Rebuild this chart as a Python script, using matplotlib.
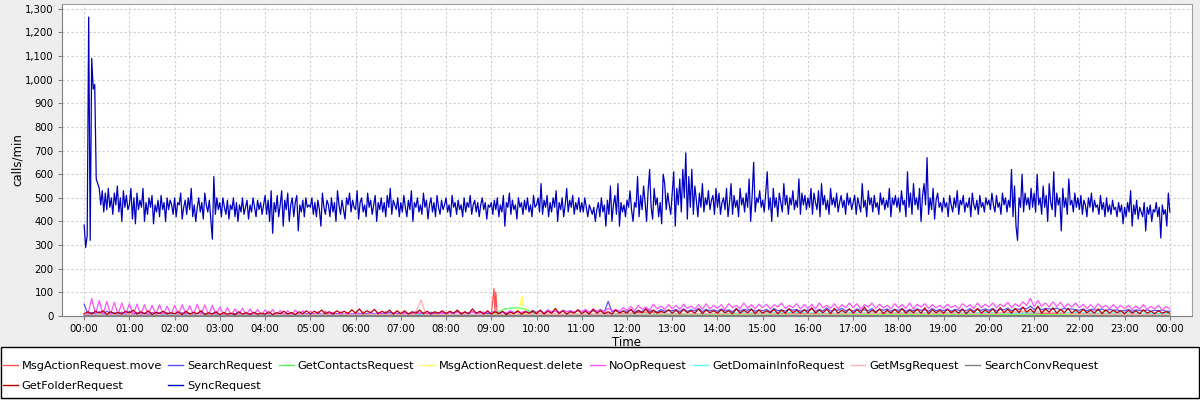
import numpy as np
import matplotlib
matplotlib.use('Agg')
import matplotlib.pyplot as plt
from matplotlib.patches import Rectangle
from matplotlib.ticker import FuncFormatter, MultipleLocator

# SyncRequest, one value every 2 minutes (30 per hour)
sync = [
    385, 290, 340, 1265, 320, 1090, 960, 980, 580, 560, 540, 470, 530, 440, 520, 450, 540, 460, 500, 430, 520, 470, 550, 440, 500, 400, 530, 460, 510, 450,
    470, 540, 410, 500, 390, 520, 450, 490, 460, 540, 400, 480, 430, 500, 460, 510, 390, 470, 440, 490, 420, 510, 450, 480, 400, 500, 450, 490, 470, 430,
    500, 420, 480, 470, 520, 410, 460, 490, 430, 500, 450, 540, 420, 470, 400, 460, 500, 440, 480, 410, 520, 470, 440, 490, 410, 325, 590, 430, 500, 450,
    480, 420, 500, 460, 430, 490, 410, 470, 450, 500, 420, 480, 400, 470, 440, 500, 430, 460, 490, 410, 470, 440, 500, 460, 420, 490, 450, 480, 430, 470,
    510, 430, 490, 400, 530, 350, 480, 440, 510, 420, 470, 530, 380, 490, 450, 520, 400, 470, 500, 420, 480, 510, 360, 470, 440, 490, 420, 500, 460, 470,
    460, 500, 430, 480, 420, 490, 450, 380, 520, 460, 430, 490, 470, 420, 500, 440, 480, 400, 530, 470, 430, 490, 450, 410, 500, 470, 520, 440, 490, 460,
    450, 530, 410, 480, 500, 440, 470, 420, 520, 460, 490, 430, 470, 510, 400, 480, 450, 500, 440, 480, 420, 510, 460, 540, 430, 490, 470, 450, 500, 420,
    480, 440, 510, 460, 420, 490, 450, 530, 400, 480, 460, 500, 440, 470, 430, 520, 460, 490, 410, 470, 500, 440, 480, 420, 510, 460, 430, 490, 450, 470,
    500, 440, 470, 420, 510, 460, 480, 430, 490, 450, 470, 420, 500, 440, 480, 460, 510, 430, 470, 490, 440, 480, 420, 470, 500, 450, 480, 410, 470, 460,
    480, 430, 490, 450, 500, 420, 470, 440, 510, 380, 480, 460, 520, 430, 490, 450, 470, 410, 500, 460, 480, 430, 490, 450, 500, 440, 470, 420, 510, 460,
    470, 500, 440, 560, 430, 490, 460, 510, 420, 480, 440, 500, 460, 530, 400, 480, 450, 500, 420, 470, 540, 440, 490, 460, 510, 430, 480, 450, 500, 440,
    480, 440, 500, 460, 420, 470, 450, 430, 460, 400, 450, 480, 420, 500, 440, 470, 380, 490, 430, 550, 400, 470, 510, 430, 560, 380, 480, 440, 470, 420,
    490, 460, 530, 450, 400, 480, 460, 590, 420, 510, 450, 550, 480, 400, 530, 620, 460, 410, 540, 470, 500, 420, 480, 390, 600, 560, 450, 520, 470, 430,
    520, 610, 380, 540, 470, 580, 440, 620, 500, 690, 410, 590, 460, 620, 430, 550, 490, 420, 520, 460, 560, 440, 500, 470, 530, 450, 490, 510, 430, 540,
    460, 520, 430, 480, 500, 450, 540, 420, 480, 560, 430, 510, 460, 490, 420, 540, 470, 500, 440, 520, 460, 580, 400, 510, 650, 440, 500, 480, 530, 460,
    490, 440, 520, 610, 450, 500, 400, 540, 460, 500, 420, 520, 480, 440, 560, 470, 510, 430, 500, 470, 530, 450, 490, 460, 580, 430, 520, 470, 510, 450,
    500, 460, 540, 430, 520, 480, 450, 530, 420, 560, 470, 510, 450, 490, 430, 540, 470, 500, 460, 520, 440, 480, 510, 460, 490, 430, 520, 470, 500, 450,
    480, 510, 430, 500, 470, 440, 560, 460, 490, 420, 530, 470, 500, 440, 510, 460, 480, 430, 520, 470, 500, 450, 490, 460, 540, 420, 500, 470, 510, 460,
    500, 440, 530, 470, 490, 420, 610, 460, 520, 430, 560, 470, 500, 450, 540, 400, 510, 560, 470, 670, 430, 500, 450, 540, 410, 490, 520, 460, 480, 440,
    500, 460, 480, 420, 510, 470, 440, 500, 460, 530, 430, 490, 470, 510, 440, 480, 460, 500, 420, 520, 470, 450, 490, 430, 510, 460, 480, 440, 500, 470,
    490, 450, 520, 470, 440, 510, 460, 480, 430, 520, 470, 500, 440, 490, 460, 620, 420, 550, 380, 320, 500, 460, 600, 440, 520, 470, 500, 450, 540, 460,
    520, 440, 600, 470, 500, 430, 550, 460, 510, 400, 560, 480, 450, 610, 420, 520, 470, 500, 360, 540, 460, 500, 430, 580, 470, 490, 440, 520, 460, 500,
    450, 510, 430, 490, 470, 420, 500, 460, 520, 440, 490, 460, 470, 430, 510, 450, 480, 420, 500, 440, 470, 430, 490, 450, 460, 420, 480, 440, 470, 390,
    460, 420, 480, 440, 530, 380, 470, 430, 490, 410, 460, 440, 420, 480, 360, 460, 430, 470, 400, 450, 440, 480, 420, 460, 330, 470, 430, 450, 380, 520,
    440,
]

# NoOpRequest, one value every 5 minutes
noop = [
    5, 8, 74, 8, 65, 6, 62, 6, 58, 6, 55, 6,
    52, 5, 50, 6, 48, 5, 45, 6, 47, 5, 42, 6,
    45, 5, 48, 6, 44, 5, 50, 6, 47, 5, 45, 5,
    38, 5, 35, 4, 30, 5, 33, 4, 30, 5, 28, 4,
    26, 5, 28, 4, 24, 5, 22, 4, 25, 5, 22, 4,
    20, 6, 18, 5, 20, 6, 16, 5, 18, 6, 15, 5,
    16, 6, 18, 5, 15, 7, 16, 6, 18, 5, 15, 7,
    8, 12, 10, 15, 9, 14, 8, 12, 10, 15, 9, 12,
    10, 14, 12, 16, 10, 15, 12, 18, 10, 14, 12, 16,
    12, 18, 10, 16, 14, 20, 12, 18, 15, 20, 12, 18,
    15, 22, 12, 25, 18, 20, 15, 24, 18, 22, 16, 25,
    18, 28, 15, 30, 20, 25, 18, 32, 22, 28, 20, 35,
    25, 40, 22, 45, 28, 38, 25, 50, 30, 42, 28, 48,
    30, 45, 28, 50, 32, 42, 30, 48, 28, 52, 30, 45,
    32, 48, 28, 52, 35, 45, 30, 55, 32, 48, 30, 50,
    35, 50, 30, 48, 38, 55, 32, 45, 35, 52, 30, 48,
    32, 50, 30, 55, 35, 45, 32, 52, 30, 48, 35, 55,
    35, 52, 30, 48, 38, 55, 32, 50, 35, 45, 30, 52,
    35, 48, 32, 55, 30, 50, 38, 52, 32, 48, 35, 45,
    32, 50, 35, 45, 30, 52, 38, 48, 32, 55, 35, 50,
    38, 55, 35, 50, 40, 58, 35, 52, 40, 60, 45, 75,
    40, 65, 42, 55, 38, 60, 40, 58, 35, 52, 38, 55,
    35, 50, 32, 48, 30, 52, 35, 45, 30, 48, 32, 45,
    30, 45, 28, 42, 30, 48, 28, 40, 30, 45, 25, 40,
    30,
]

# GetFolderRequest, every 5 minutes
getfolder = [
    10, 18, 8, 20, 12, 22, 6, 18, 10, 15, 8, 20,
    12, 25, 8, 18, 10, 22, 6, 15, 12, 20, 8, 14,
    10, 18, 6, 20, 8, 15, 10, 22, 6, 14, 8, 18,
    6, 15, 8, 12, 5, 18, 8, 14, 6, 16, 8, 12,
    8, 18, 6, 14, 10, 20, 8, 15, 6, 18, 10, 22,
    8, 20, 12, 25, 10, 18, 8, 22, 12, 20, 10, 26,
    12, 30, 10, 22, 14, 28, 10, 20, 12, 25, 8, 22,
    10, 22, 8, 18, 12, 25, 10, 20, 8, 18, 12, 22,
    10, 20, 12, 25, 8, 18, 10, 30, 12, 20, 8, 22,
    8, 18, 10, 20, 6, 16, 10, 22, 8, 18, 12, 20,
    10, 25, 8, 20, 12, 32, 10, 22, 8, 18, 12, 25,
    10, 20, 8, 28, 12, 22, 10, 18, 8, 25, 12, 20,
    12, 28, 10, 22, 14, 30, 10, 25, 12, 20, 14, 26,
    12, 24, 10, 28, 14, 22, 12, 30, 10, 25, 14, 22,
    12, 26, 14, 22, 10, 30, 12, 24, 14, 28, 10, 25,
    12, 22, 14, 28, 10, 25, 12, 30, 14, 24, 12, 26,
    14, 35, 12, 25, 14, 28, 10, 32, 12, 24, 14, 30,
    12, 26, 14, 38, 12, 25, 14, 30, 10, 24, 12, 28,
    14, 30, 12, 25, 14, 28, 12, 35, 10, 26, 14, 24,
    12, 28, 14, 24, 12, 30, 10, 26, 14, 32, 12, 25,
    14, 30, 12, 35, 14, 28, 12, 32, 14, 38, 16, 30,
    14, 42, 12, 30, 16, 35, 12, 28, 14, 32, 12, 26,
    12, 28, 14, 24, 12, 30, 10, 26, 12, 24, 14, 22,
    10, 24, 12, 22, 10, 26, 12, 20, 10, 22, 12, 18,
    12,
]

# SearchRequest, every 5 minutes
search = [
    50, 8, 15, 10, 18, 8, 20, 10, 14, 8, 16, 10,
    20, 8, 14, 10, 12, 6, 15, 8, 12, 6, 14, 8,
    10, 6, 14, 8, 12, 6, 10, 15, 8, 6, 12, 8,
    6, 10, 5, 8, 10, 6, 8, 5, 10, 6, 8, 5,
    8, 10, 5, 8, 12, 6, 8, 10, 5, 8, 6, 10,
    6, 8, 10, 6, 12, 8, 6, 10, 8, 6, 12, 8,
    8, 12, 6, 10, 14, 8, 10, 12, 8, 15, 10, 12,
    10, 15, 8, 12, 18, 10, 14, 8, 16, 10, 12, 14,
    12, 16, 10, 20, 12, 15, 10, 18, 12, 14, 16, 10,
    14, 20, 12, 16, 10, 22, 14, 18, 12, 20, 15, 24,
    15, 22, 12, 26, 16, 20, 14, 24, 18, 22, 15, 26,
    18, 24, 15, 22, 20, 28, 16, 62, 18, 24, 15, 22,
    20, 26, 16, 24, 18, 30, 20, 24, 16, 28, 20, 25,
    22, 28, 18, 30, 20, 26, 22, 32, 18, 28, 22, 26,
    20, 30, 22, 26, 18, 32, 20, 28, 24, 30, 20, 26,
    22, 28, 18, 32, 22, 26, 20, 30, 24, 28, 20, 26,
    24, 30, 20, 28, 22, 34, 20, 26, 24, 32, 22, 28,
    20, 30, 24, 26, 22, 32, 18, 28, 24, 30, 20, 28,
    24, 32, 20, 28, 22, 30, 24, 26, 20, 32, 22, 28,
    22, 30, 20, 28, 24, 26, 22, 32, 20, 28, 24, 30,
    24, 32, 22, 28, 26, 34, 22, 30, 28, 36, 30, 42,
    28, 36, 26, 32, 30, 28, 34, 26, 32, 28, 30, 26,
    24, 30, 22, 28, 26, 24, 30, 22, 28, 24, 26, 22,
    22, 28, 20, 26, 24, 22, 26, 20, 24, 22, 26, 20,
    20,
]

# GetDomainInfoRequest, every 30 minutes
domaininfo = [2, 3, 2, 2, 3, 2, 2, 3, 2, 2, 3, 2, 2, 3, 3, 4, 4, 5, 5, 6, 6, 5, 8, 6,
              8, 10, 12, 10, 12, 14, 12, 14, 15, 12, 14, 12, 15, 14, 12, 14, 15, 12,
              14, 16, 14, 12, 14, 12, 10]

# sparse series: (hour, value)
move_t = [0, 1, 2, 3, 4, 5, 6, 7, 8, 9.0, 9.06, 9.08, 9.1, 9.13, 9.2, 10, 11, 12, 12.5, 13, 14, 15, 16, 17, 18, 19, 20, 21, 22, 23, 24]
move_v = [3, 4, 3, 3, 4, 4, 5, 5, 6, 5, 117, 20, 101, 8, 6, 8, 6, 10, 18, 8, 10, 12, 10, 12, 10, 12, 14, 12, 10, 8, 6]

contacts_t = [0, 2, 4, 6, 8, 9, 9.3, 9.45, 9.6, 9.75, 10, 12, 14, 16, 18, 20, 22, 24]
contacts_v = [2, 2, 3, 3, 4, 4, 30, 33, 35, 30, 5, 6, 5, 6, 5, 6, 5, 4]

delete_t = [0, 6, 9.5, 9.62, 9.68, 9.72, 9.8, 12, 18, 24]
delete_v = [1, 1, 2, 30, 83, 25, 3, 2, 3, 2]

getmsg_t = [0, 3, 6, 7.3, 7.45, 7.55, 8, 10, 12, 14, 16, 18, 20, 20.8, 22, 24]
getmsg_v = [2, 3, 4, 5, 68, 6, 5, 6, 8, 10, 8, 12, 10, 20, 8, 6]

searchconv_t = [0, 4, 8, 12, 16, 20, 24]
searchconv_v = [1, 1, 2, 2, 2, 2, 1]

hour_labels = ['%02d:00' % (h % 24) for h in range(25)]


def tgrid(vals):
    return np.linspace(0, 24, len(vals))


fig = plt.figure(figsize=(12, 4), dpi=100, facecolor='#EEEEEE')
ax = fig.add_axes([62 / 1200, 1 - 316 / 400, 1130 / 1200, 312 / 400])
ax.set_facecolor('white')

lw = 0.9
h_move, = ax.plot(move_t, move_v, color='#FF5555', lw=lw, label='MsgActionRequest.move')
h_search, = ax.plot(tgrid(search), search, color='#5555FF', lw=lw, label='SearchRequest')
h_contacts, = ax.plot(contacts_t, contacts_v, color='#55FF55', lw=lw, label='GetContactsRequest')
h_delete, = ax.plot(delete_t, delete_v, color='#FFFF55', lw=lw, label='MsgActionRequest.delete')
h_noop, = ax.plot(tgrid(noop), noop, color='#FF55FF', lw=lw, label='NoOpRequest')
h_domain, = ax.plot(tgrid(domaininfo), domaininfo, color='#55FFFF', lw=lw, label='GetDomainInfoRequest')
h_getmsg, = ax.plot(getmsg_t, getmsg_v, color='#FFAFAF', lw=lw, label='GetMsgRequest')
h_conv, = ax.plot(searchconv_t, searchconv_v, color='#808080', lw=lw, label='SearchConvRequest')
h_folder, = ax.plot(tgrid(getfolder), getfolder, color='#C00000', lw=lw, label='GetFolderRequest')
h_sync, = ax.plot(tgrid(sync), sync, color='#0000C0', lw=lw, label='SyncRequest')

ax.set_xlim(-0.49, 24.49)
ax.set_ylim(0, 1320)
ax.set_xticks(range(25))
ax.set_xticklabels(hour_labels)
ax.yaxis.set_major_locator(MultipleLocator(100))
ax.yaxis.set_major_formatter(FuncFormatter(lambda v, p: '{:,.0f}'.format(v)))
ax.tick_params(labelsize=7.3, length=3, color='#808080', pad=3)
ax.grid(True, color='#D0D0D0', linestyle=(0, (2, 2)), lw=0.8)
for s in ax.spines.values():
    s.set_color('#A0A0A0')
ax.spines['left'].set_color('#808080')
ax.spines['bottom'].set_color('#808080')
ax.set_xlabel('Time', fontsize=8.5)
ax.set_ylabel('calls/min', fontsize=8.5)
ax.xaxis.set_label_coords(0.5, -(336 - 316) / 312, transform=ax.transAxes)
ax.yaxis.set_label_coords(-(62 - 24) / 1130, 0.5, transform=ax.transAxes)

# legend box spanning the full width
fig.patches.append(Rectangle((0.5 / 1200, 2 / 400), 1198 / 1200, 51 / 400, transform=fig.transFigure,
                             facecolor='white', edgecolor='black', lw=1.0))

# order handles so column-major fill gives the row layout
handles = [h_move, h_folder, h_search, h_sync, h_contacts, h_delete, h_noop, h_domain, h_getmsg, h_conv]
leg = fig.legend(handles=handles, labels=[h.get_label() for h in handles], ncol=8,
                 loc='upper left', bbox_to_anchor=(3 / 1200, 1 - 361 / 400),
                 frameon=False, fontsize=8.2, handlelength=1.3, handletextpad=0.35,
                 columnspacing=0.55, borderaxespad=0, borderpad=0, labelspacing=0.85)
for line in leg.get_lines():
    line.set_linewidth(1.0)

fig.savefig('out.png', dpi=100, facecolor=fig.get_facecolor())
